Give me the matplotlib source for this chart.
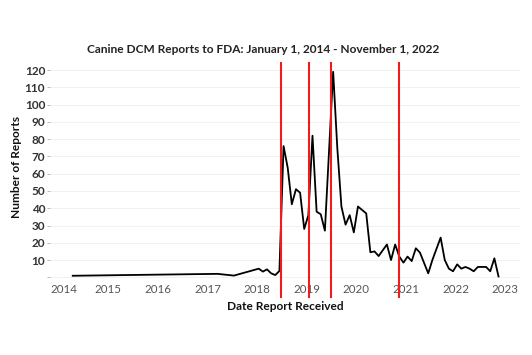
import matplotlib
matplotlib.use('Agg')
import matplotlib.pyplot as plt
import matplotlib.transforms as mtransforms

# monthly report counts
months = ['2014-04', '2017-03', '2017-07',
          '2018-01', '2018-02', '2018-03', '2018-04', '2018-05', '2018-06',
          '2018-07', '2018-08', '2018-09', '2018-10', '2018-11', '2018-12',
          '2019-01', '2019-02', '2019-03', '2019-04', '2019-05', '2019-07',
          '2019-08', '2019-09', '2019-10', '2019-11', '2019-12',
          '2020-01', '2020-03', '2020-04', '2020-05', '2020-06', '2020-08',
          '2020-09', '2020-10', '2020-11', '2020-12',
          '2021-01', '2021-02', '2021-03', '2021-04', '2021-06', '2021-07',
          '2021-09', '2021-10', '2021-11', '2021-12',
          '2022-01', '2022-02', '2022-03', '2022-04', '2022-05', '2022-06',
          '2022-08', '2022-09', '2022-10', '2022-11']
reports = [0.9, 2.0, 1.0,
           5, 3.3, 4.6, 2.3, 1.3, 3.7,
           76, 63.5, 42.3, 51, 49, 28,
           36, 82, 38, 36.5, 27, 119,
           75, 41, 30.5, 36, 26,
           41, 37, 14.5, 15, 12.3, 19,
           10, 19, 12, 8.5,
           12, 9.4, 16.8, 14.3, 2.3, 10,
           23, 10, 5, 3.5,
           7.5, 5, 6, 5, 3.5, 6,
           6, 3.5, 11, 0.5]

# FDA update dates (red markers), decimal years
fda_updates = [2018.476, 2019.052, 2019.484, 2020.855]

years = list(range(2014, 2024))
yticks = list(range(0, 121, 10))


def to_decimal(m):
	y, mo = m.split('-')
	return int(y) + (int(mo) - 1 + 0.4) / 12.0


x_vals = [to_decimal(m) for m in months]

W, H = 532, 355
fig = plt.figure(figsize=(W / 100, H / 100), dpi=100)
ax = fig.add_axes([50 / W, 1 - 278 / H, 470 / W, 215 / H])

ax.plot(x_vals, reports, color='black', lw=1.3, zorder=3)

for d in fda_updates:
	ax.axvline(d, ymin=-0.087, ymax=1.0, color='#ee1c1c', lw=1.5,
		clip_on=False, zorder=4)

ax.set_xlim(2013.825, 2023.30)
ax.set_ylim(-0.4, 124.1)

for s in ax.spines.values():
	s.set_visible(False)

ax.set_yticks(yticks)
ax.set_yticklabels(['' if v == 0 else str(v) for v in yticks])
ax.yaxis.grid(True, color='#f1f1f1', lw=0.8)
ax.set_axisbelow(True)
ax.tick_params(axis='y', length=2.5, width=0.7, color='#bbbbbb', pad=1,
	labelsize=8.5, labelcolor='#333333')
for lbl in ax.get_yticklabels():
	lbl.set_fontfamily('Lato')
	lbl.set_fontweight('bold')

ax.set_xticks(years)
ax.set_xticklabels([str(y) for y in years])
ax.tick_params(axis='x', length=0, pad=4, labelsize=8.3, labelcolor='#555555')
for lbl in ax.get_xticklabels():
	lbl.set_fontfamily('Lato')
# first label sits inside the plot edge
first = ax.get_xticklabels()[0]
first.set_transform(first.get_transform() +
	mtransforms.ScaledTranslation(5.6 / 100, 0, fig.dpi_scale_trans))

fig.text(263 / W, 1 - 49.5 / H,
	'Canine DCM Reports to FDA: January 1, 2014 - November 1, 2022',
	ha='center', va='center', fontsize=8.6, fontweight='bold',
	family='Lato', color='#222222')
fig.text(285.5 / W, 1 - 307 / H, 'Date Report Received', ha='center',
	va='center', fontsize=8.6, fontweight='bold', family='Lato', color='#111111')
fig.text(17 / W, 1 - 167.5 / H, 'Number of Reports', ha='center',
	va='center', rotation=90, fontsize=8.6, fontweight='bold', family='Lato',
	color='#111111')

fig.savefig('out.png', dpi=100)
